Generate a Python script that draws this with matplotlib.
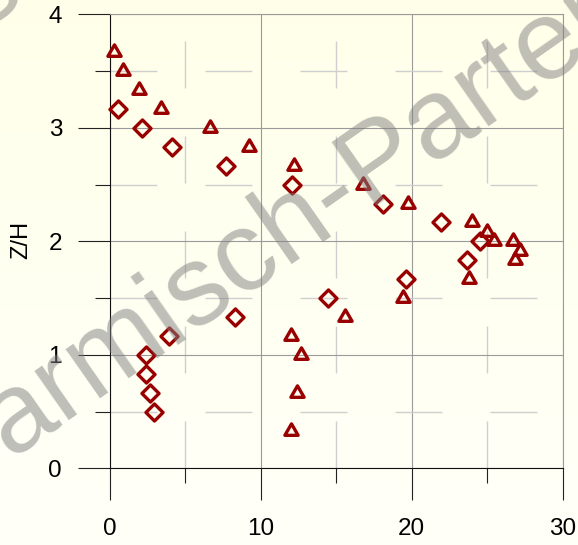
import numpy as np
import matplotlib.pyplot as plt
from matplotlib.path import Path
from matplotlib.markers import MarkerStyle
from matplotlib.ticker import MultipleLocator

plt.rcParams['font.family'] = ['Liberation Sans', 'DejaVu Sans']
plt.rcParams['lines.scale_dashes'] = False

# triangle series
tri_x = [0.29, 0.84, 1.9, 3.36, 6.63, 9.24, 12.22, 16.75, 19.74, 24.02, 24.98,
         25.46, 26.75, 27.19, 26.86, 23.78, 19.41, 15.58, 11.98, 12.65, 12.42, 11.98]
tri_y = [3.667, 3.5, 3.333, 3.167, 3.0, 2.833, 2.667, 2.5, 2.333, 2.167, 2.083,
         2.0, 2.0, 1.917, 1.833, 1.667, 1.5, 1.333, 1.167, 1.0, 0.667, 0.333]

# diamond series
dia_x = [0.51, 2.1, 4.11, 7.69, 12.05, 18.08, 21.93, 24.54, 23.67, 19.63, 14.48,
         8.29, 3.91, 2.39, 2.39, 2.68, 2.92]
dia_y = [3.167, 3.0, 2.833, 2.667, 2.5, 2.333, 2.167, 2.0, 1.833, 1.667, 1.5,
         1.333, 1.167, 1.0, 0.833, 0.667, 0.5]

x_ticks = [0, 10, 20, 30]
y_ticks = [0, 1, 2, 3, 4]

fig = plt.figure(figsize=(5.78, 5.45), dpi=100)

# pale yellow vertical gradient behind everything
bg = fig.add_axes([0, 0, 1, 1], zorder=-1)
shade = np.linspace(0, 1, 256)[:, None, None]
top = np.array([1.0, 1.0, 0.915])
bottom = np.array([1.0, 1.0, 0.975])
bg.imshow(top + (bottom - top) * shade, aspect='auto', extent=[0, 1, 0, 1])
bg.axis('off')

ax = fig.add_axes([110 / 578, 76.7 / 545, 452.5 / 578, 454 / 545])
ax.set_facecolor('none')

s = np.sqrt(3) / 2
tri = MarkerStyle(Path([(0, 1), (-s, -0.5), (s, -0.5), (0, 1)], closed=True),
                  joinstyle='miter')
dia = MarkerStyle(Path([(0, 1), (1, 0), (0, -1), (-1, 0), (0, 1)], closed=True),
                  joinstyle='miter')

red = '#990000'
ax.plot(tri_x, tri_y, ls='none', marker=tri, ms=11, mfc='none', mec=red,
        mew=2.4, clip_on=False, zorder=3)
ax.plot(dia_x, dia_y, ls='none', marker=dia, ms=12.3, mfc='none', mec=red,
        mew=2.4, clip_on=False, zorder=3)

ax.set_xlim(0, 30)
ax.set_ylim(0, 4)
ax.set_xticks(x_ticks)
ax.set_yticks(y_ticks)
ax.xaxis.set_minor_locator(MultipleLocator(5))
ax.yaxis.set_minor_locator(MultipleLocator(0.5))

ax.set_axisbelow(True)
ax.grid(which='major', color='#9a9a9a', lw=0.8)
ax.grid(which='minor', color='#cfcfcf', lw=1.0, linestyle=(0, (33.8, 34.6)))

ax.tick_params(which='major', length=23, width=0.8, color='#222222',
               labelsize=17.5)
ax.tick_params(which='minor', length=10.8, width=0.8, color='#222222')
ax.tick_params(axis='x', which='major', pad=12.5)
ax.tick_params(axis='y', which='major', pad=11.5)

for side in ['left', 'bottom']:
    ax.spines[side].set_color('#111111')
    ax.spines[side].set_linewidth(0.8)
for side in ['top', 'right']:
    ax.spines[side].set_color('#9a9a9a')
    ax.spines[side].set_linewidth(0.8)

ax.set_ylabel('Z/H', fontsize=17)
ax.yaxis.set_label_coords(-0.172, 0.503)

# repeated watermark lines across the figure
mark = dict(fontsize=82, rotation=35, rotation_mode='anchor', ha='center',
            va='baseline', color='#808080', alpha=0.5, zorder=10)
fig.text(441 / 578, 1 - 156 / 545, 'Garmisch-Partenkirchen', **mark)
fig.text(230 / 578, 1 + 145 / 545, 'Garmisch-Partenkirchen', **mark)

fig.savefig('out.png', dpi=100)
